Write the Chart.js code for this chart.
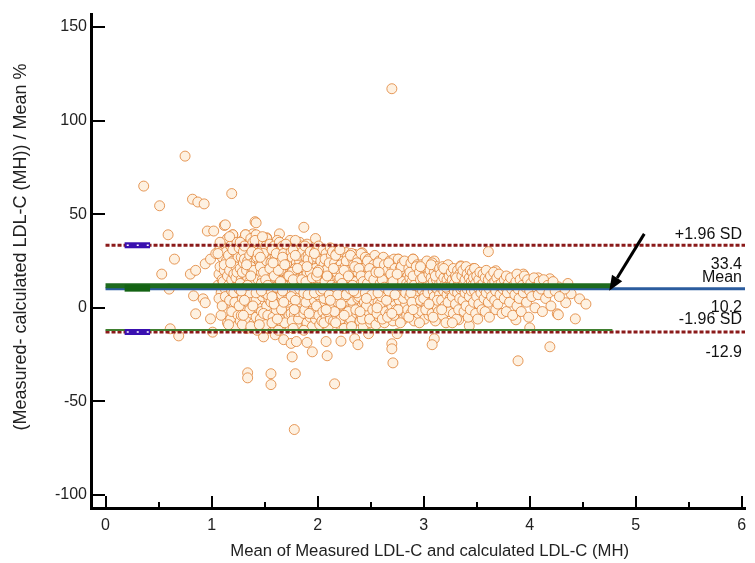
<!DOCTYPE html>
<html>
<head>
<meta charset="utf-8">
<script src="https://cdn.jsdelivr.net/npm/chart.js@4.4.1/dist/chart.umd.min.js"></script>
<style>
  html, body { margin: 0; padding: 0; background: #fff; }
  #wrap { width: 755px; height: 563px; }
</style>
</head>
<body>
<div id="wrap"><canvas id="chart" width="755" height="563"></canvas></div>
<script>
// Bland-Altman: % difference vs mean
const meanDiff = 10.2;
const upperLimit = 33.4;
const lowerLimit = -12.9;
const xTicks = [0, 1, 2, 3, 4, 5, 6];
const yTicks = [-100, -50, 0, 50, 100, 150];
const regMean = [[0, 11.8], [4.78, 11.8]];
const regLower = [[0, -11.8], [4.78, -11.8]];
const ciRange = [0.18, 0.42];
const arrowFrom = [5.08, 39.5];
const arrowTo = [4.75, 9.1];

const outliers = [
  [2.7,117],[0.75,81],[0.36,65],[0.51,54.5],[0.82,58],[0.87,56.5],[0.93,55.5],[1.19,61],
  [0.59,39],[0.65,26],[0.53,18],[0.6,10],[0.8,18],[0.85,20],[0.83,6.4],[0.92,4.8],[0.94,2.7],
  [0.85,-3.2],[0.99,-5.9],[0.61,-11.2],[0.69,-15],[1.01,-13],[0.96,41],[1.02,41],[1.12,44],
  [1.41,46],[1.64,39.5],[1.87,43],[1.98,37],[0.94,23.5],[0.99,26],[1.04,29],[1.08,32],
  [1.2,39],[1.32,39],[1.39,39.5],[1.52,37.4],[1.13,44.3],[1.42,45.4],
  [2.21,29],[2.27,29.5],[2.35,28.5],[2.42,29.4],[2.5,26],[2.76,26],[2.9,26],
  [3.61,30],[3.1,25],[3.35,22.4],[3.47,21],[3.68,19.8],[3.79,16],[3.94,18],[4.08,16],[4.19,15.5],
  [4.27,11.2],[4.39,7.5],[4.47,4.8],[4.53,2],[4.43,-5.9],[4.26,-3.2],[4.34,2.7],[4.33,10],[4.36,13],
  [4.0,-10.7],[3.43,-9.6],[3.33,-6.4],[3.87,-6.4],[4.27,-3.7],[3.89,-28.3],[4.19,-20.8],
  [1.49,-15.5],[1.6,-14.4],[1.68,-17],[1.75,-19],[1.8,-18],[1.9,-18.5],[2.08,-18],[2.22,-17.8],
  [2.35,-16.5],[2.38,-19.7],[2.48,-13.8],[2.7,-19.2],[2.7,-21.9],[2.75,-13.8],[3.1,-16.5],[3.08,-19.7],
  [1.76,-26.2],[1.95,-23.5],[2.09,-25.6],[2.71,-29.4],[1.34,-34.7],[1.34,-37.4],[1.56,-35.2],
  [1.56,-41],[1.79,-35.2],[2.16,-40.6],[1.78,-65]
];

const cloud = [
  [1.06,12],[1.07,18],[1.08,22],[1.09,8],[1.1,27],[1.1,15],[1.11,3],[1.12,34],[1.12,20],[1.13,10],[1.13,-2],[1.14,25],
  [1.14,30],[1.07,5],[1.09,-4],[1.11,14],[1.15,17],[1.15,37],[1.06,29],[1.08,35],[1.13,6],[1.15,-8],[1.1,1],[1.12,23],
  [1.16,12],[1.16,28],[1.17,4],[1.17,20],[1.18,33],[1.18,-6],[1.19,15],[1.19,9],[1.2,25],[1.2,39],[1.21,0],[1.21,18],
  [1.22,30],[1.22,11],[1.23,-10],[1.23,22],[1.24,6],[1.24,35],[1.25,14],[1.25,27],[1.17,38],[1.19,-2],[1.21,8],[1.23,16],
  [1.18,24],[1.2,31],[1.22,3],[1.24,19],[1.16,-9],[1.25,-4],
  [1.26,10],[1.26,32],[1.27,21],[1.27,-7],[1.28,15],[1.28,27],[1.29,5],[1.29,36],[1.3,12],[1.3,24],[1.31,-1],[1.31,18],
  [1.32,39],[1.32,8],[1.33,29],[1.33,-11],[1.34,16],[1.34,3],[1.35,22],[1.35,34],[1.26,1],[1.27,13],[1.28,-4],[1.29,19],
  [1.3,30],[1.31,26],[1.32,11],[1.33,6],[1.34,25],[1.35,-6],[1.27,35],[1.29,-9],[1.31,33],[1.33,20],[1.35,9],
  [1.36,14],[1.36,28],[1.37,5],[1.37,37],[1.38,19],[1.38,-3],[1.39,24],[1.39,10],[1.4,31],[1.4,-8],[1.41,16],[1.41,2],
  [1.42,26],[1.42,39],[1.43,12],[1.43,-12],[1.44,21],[1.44,7],[1.45,33],[1.45,17],[1.36,-1],[1.37,22],[1.38,9],[1.39,35],
  [1.4,13],[1.41,29],[1.42,-5],[1.43,18],[1.44,0],[1.45,25],[1.36,8],[1.38,30],[1.4,20],[1.42,4],[1.44,15],[1.37,-10],
  [1.41,36],[1.43,27],
  [1.46,11],[1.46,30],[1.47,19],[1.47,-2],[1.48,24],[1.48,6],[1.49,35],[1.49,14],[1.5,-7],[1.5,27],[1.51,9],[1.51,20],
  [1.52,37],[1.52,1],[1.53,16],[1.53,31],[1.54,-11],[1.54,23],[1.55,12],[1.55,4],[1.46,-6],[1.47,26],[1.48,15],[1.49,-3],
  [1.5,21],[1.51,33],[1.52,10],[1.53,-4],[1.54,18],[1.55,28],[1.46,22],[1.48,38],[1.5,8],[1.52,25],[1.54,5],[1.47,13],
  [1.49,29],[1.51,-9],[1.53,7],[1.55,34],
  [1.56,17],[1.56,3],[1.57,26],[1.57,10],[1.58,32],[1.58,-5],[1.59,20],[1.59,13],[1.6,-10],[1.6,28],[1.61,7],[1.61,22],
  [1.62,36],[1.62,0],[1.63,15],[1.63,25],[1.64,-3],[1.64,11],[1.65,30],[1.65,18],[1.56,24],[1.57,-8],[1.58,14],[1.59,33],
  [1.6,5],[1.61,-1],[1.62,19],[1.63,8],[1.64,27],[1.65,-7],[1.56,9],[1.58,21],[1.6,16],[1.62,12],[1.64,35],[1.57,31],
  [1.59,2],[1.61,29],[1.63,-12],[1.65,6],
  [1.66,14],[1.66,25],[1.67,4],[1.67,33],[1.68,19],[1.68,-6],[1.69,11],[1.69,28],[1.7,-2],[1.7,22],[1.71,8],[1.71,16],
  [1.72,31],[1.72,-9],[1.73,13],[1.73,24],[1.74,1],[1.74,36],[1.75,18],[1.75,10],[1.66,-1],[1.67,20],[1.68,29],[1.69,6],
  [1.7,15],[1.71,26],[1.72,3],[1.73,-4],[1.74,21],[1.75,30],[1.66,7],[1.68,12],[1.7,34],[1.72,17],[1.74,-10],[1.67,27],
  [1.69,-8],[1.71,23],[1.73,9],[1.75,-3],
  [1.76,13],[1.76,27],[1.77,5],[1.77,20],[1.78,-4],[1.78,32],[1.79,16],[1.79,9],[1.8,24],[1.8,-9],[1.81,11],[1.81,29],
  [1.82,2],[1.82,18],[1.83,35],[1.83,14],[1.84,-1],[1.84,22],[1.85,7],[1.85,26],[1.76,-7],[1.77,31],[1.78,12],[1.79,21],
  [1.8,4],[1.81,17],[1.82,-6],[1.83,25],[1.84,10],[1.85,33],[1.76,19],[1.78,8],[1.8,15],[1.82,28],[1.84,3],[1.77,-11],
  [1.79,36],[1.81,-2],[1.83,6],[1.85,20],
  [1.86,12],[1.86,30],[1.87,23],[1.87,-3],[1.88,16],[1.88,6],[1.89,27],[1.89,10],[1.9,-8],[1.9,34],[1.91,19],[1.91,2],
  [1.92,14],[1.92,25],[1.93,-5],[1.93,8],[1.94,21],[1.94,31],[1.95,12],[1.95,-10],[1.86,4],[1.87,17],[1.88,-1],[1.89,20],
  [1.9,11],[1.91,28],[1.92,5],[1.93,15],[1.94,-2],[1.95,24],[1.86,22],[1.88,33],[1.9,18],[1.92,9],[1.94,13],[1.87,-12],
  [1.89,3],[1.91,26],[1.93,30],[1.95,7],
  [1.96,16],[1.96,26],[1.97,4],[1.97,11],[1.98,30],[1.98,-6],[1.99,20],[1.99,13],[2.0,-1],[2.0,24],[2.01,8],[2.01,33],
  [2.02,17],[2.02,-9],[2.03,12],[2.03,22],[2.04,2],[2.04,28],[2.05,14],[2.05,6],[1.96,-3],[1.97,19],[1.98,9],[1.99,27],
  [2.0,15],[2.01,-4],[2.02,23],[2.03,5],[2.04,18],[2.05,31],[1.96,10],[1.98,21],[2.0,7],[2.02,12],[2.04,-7],[1.97,29],
  [1.99,1],[2.01,16],[2.03,25],[2.05,-2],
  [2.06,11],[2.06,23],[2.07,3],[2.07,18],[2.08,29],[2.08,-5],[2.09,14],[2.09,8],[2.1,25],[2.1,-10],[2.11,19],[2.11,12],
  [2.12,32],[2.12,0],[2.13,16],[2.13,6],[2.14,22],[2.14,-3],[2.15,10],[2.15,27],[2.06,-8],[2.07,26],[2.08,15],[2.09,21],
  [2.1,4],[2.11,-1],[2.12,13],[2.13,28],[2.14,9],[2.15,17],[2.06,5],[2.08,20],[2.1,12],[2.12,-6],[2.14,30],[2.07,10],
  [2.09,-2],[2.11,24],[2.13,1],[2.15,-7],
  [2.16,14],[2.16,24],[2.17,6],[2.17,19],[2.18,-4],[2.18,29],[2.19,11],[2.19,16],[2.2,2],[2.2,22],[2.21,-9],[2.21,13],
  [2.22,27],[2.22,8],[2.23,18],[2.23,-1],[2.24,10],[2.24,25],[2.25,4],[2.25,15],[2.16,-2],[2.17,28],[2.18,12],[2.19,21],
  [2.2,9],[2.21,31],[2.22,-6],[2.23,5],[2.24,17],[2.25,-11],[2.16,8],[2.18,19],[2.2,14],[2.22,23],[2.24,1],[2.17,-8],
  [2.19,3],[2.21,20],
  [2.26,12],[2.26,22],[2.27,3],[2.27,17],[2.28,27],[2.28,-5],[2.29,9],[2.29,14],[2.3,-1],[2.3,24],[2.31,19],[2.31,6],
  [2.32,11],[2.32,29],[2.33,-8],[2.33,16],[2.34,21],[2.34,1],[2.35,13],[2.35,7],[2.26,-3],[2.27,25],[2.28,10],[2.29,20],
  [2.3,15],[2.31,-6],[2.32,4],[2.33,26],[2.34,12],[2.35,18],[2.26,6],[2.28,16],[2.3,8],[2.32,-10],[2.34,23],[2.27,11],
  [2.29,-2],[2.31,28],
  [2.36,10],[2.36,20],[2.37,15],[2.37,-3],[2.38,26],[2.38,5],[2.39,12],[2.39,18],[2.4,-7],[2.4,23],[2.41,8],[2.41,29],
  [2.42,14],[2.42,1],[2.43,19],[2.43,-10],[2.44,11],[2.44,25],[2.45,4],[2.45,16],[2.36,-1],[2.37,24],[2.38,12],[2.39,6],
  [2.4,17],[2.41,-4],[2.42,21],[2.43,9],[2.44,3],[2.45,27],[2.36,14],[2.38,19],[2.4,10],[2.42,-6],[2.44,15],[2.41,13],
  [2.46,12],[2.46,22],[2.47,6],[2.47,17],[2.48,-2],[2.48,26],[2.49,10],[2.49,14],[2.5,20],[2.5,-8],[2.51,3],[2.51,24],
  [2.52,16],[2.52,9],[2.53,-4],[2.53,19],[2.54,12],[2.54,28],[2.55,5],[2.55,14],[2.46,1],[2.47,25],[2.48,11],[2.49,-6],
  [2.5,13],[2.51,18],[2.52,-1],[2.53,23],[2.54,7],[2.55,-9],[2.47,9],[2.49,21],[2.51,11],[2.53,4],
  [2.56,11],[2.56,20],[2.57,3],[2.57,15],[2.58,25],[2.58,-5],[2.59,9],[2.59,17],[2.6,13],[2.6,-1],[2.61,22],[2.61,7],
  [2.62,27],[2.62,12],[2.63,-8],[2.63,18],[2.64,5],[2.64,14],[2.65,21],[2.65,10],[2.56,-3],[2.57,24],[2.58,14],[2.59,2],
  [2.6,19],[2.61,-6],[2.62,8],[2.63,23],[2.64,-2],[2.65,16],[2.57,11],[2.6,6],
  [2.66,12],[2.66,20],[2.67,5],[2.67,16],[2.68,25],[2.68,-3],[2.69,10],[2.69,14],[2.7,22],[2.7,1],[2.71,18],[2.71,-7],
  [2.72,9],[2.72,26],[2.73,13],[2.73,3],[2.74,19],[2.74,-1],[2.75,11],[2.75,23],[2.66,-5],[2.67,24],[2.68,14],[2.69,6],
  [2.7,17],[2.71,11],[2.72,-4],[2.73,21],[2.74,8],[2.75,15],
  [2.76,13],[2.76,26],[2.77,4],[2.77,18],[2.78,9],[2.78,21],[2.79,-2],[2.79,14],[2.8,24],[2.8,7],[2.81,16],[2.81,-6],
  [2.82,11],[2.82,20],[2.83,2],[2.83,15],[2.84,23],[2.84,-4],[2.85,10],[2.85,17],[2.76,-1],[2.77,12],[2.78,-8],[2.79,22],
  [2.8,14],[2.81,5],[2.82,25],[2.83,8],[2.84,13],[2.85,-1],
  [2.86,12],[2.86,21],[2.87,6],[2.87,16],[2.88,-3],[2.88,24],[2.89,10],[2.89,14],[2.9,26],[2.9,2],[2.91,18],[2.91,-7],
  [2.92,11],[2.92,20],[2.93,5],[2.93,15],[2.94,-1],[2.94,23],[2.95,9],[2.95,13],[2.86,-5],[2.87,19],[2.88,8],[2.89,3],
  [2.9,17],[2.91,12],[2.93,22],[2.95,-3],
  [2.96,11],[2.96,19],[2.97,4],[2.97,15],[2.98,23],[2.98,-2],[2.99,9],[3.0,13],[3.0,21],[3.01,-6],[3.01,7],[3.02,17],
  [3.02,11],[3.03,25],[3.03,1],[3.04,14],[3.04,20],[3.05,-4],[3.05,10],[2.96,-8],[2.97,22],[2.99,16],[3.0,5],[3.02,-1],
  [3.04,8],[3.05,18],
  [3.06,12],[3.06,20],[3.07,3],[3.07,16],[3.08,24],[3.08,-3],[3.09,9],[3.09,14],[3.1,19],[3.1,6],[3.11,-7],[3.11,11],
  [3.12,22],[3.12,15],[3.13,0],[3.13,10],[3.14,18],[3.14,-2],[3.15,13],[3.15,7],[3.07,23],[3.09,-5],[3.11,17],[3.13,4],
  [3.15,21],
  [3.16,11],[3.16,18],[3.17,4],[3.17,14],[3.18,22],[3.18,-4],[3.19,9],[3.19,16],[3.2,1],[3.2,12],[3.21,20],[3.21,-8],
  [3.22,7],[3.22,15],[3.23,23],[3.23,10],[3.24,-2],[3.24,17],[3.25,5],[3.25,13],[3.17,-1],[3.19,21],[3.21,11],[3.23,3],
  [3.26,12],[3.26,19],[3.27,6],[3.27,15],[3.28,-3],[3.28,21],[3.29,9],[3.29,13],[3.3,17],[3.3,2],[3.31,11],[3.31,-6],
  [3.32,20],[3.32,8],[3.33,14],[3.33,-1],[3.34,18],[3.34,5],[3.35,10],[3.35,22],[3.27,-8],[3.31,16],
  [3.36,11],[3.36,17],[3.37,4],[3.37,20],[3.38,13],[3.38,-2],[3.39,8],[3.39,15],[3.4,22],[3.4,1],[3.41,10],[3.41,18],
  [3.42,-5],[3.42,12],[3.43,6],[3.43,16],[3.44,20],[3.44,-1],[3.45,9],[3.45,14],
  [3.46,12],[3.46,19],[3.47,3],[3.47,16],[3.48,9],[3.48,21],[3.49,-3],[3.49,13],[3.5,17],[3.5,6],[3.51,11],[3.51,-6],
  [3.52,15],[3.52,2],[3.53,19],[3.54,8],[3.54,12],[3.55,-1],
  [3.56,13],[3.56,18],[3.57,5],[3.57,10],[3.58,16],[3.58,-2],[3.59,20],[3.59,8],[3.6,12],[3.61,3],[3.61,15],[3.62,-5],
  [3.62,10],[3.63,17],[3.64,6],[3.65,13],
  [3.66,11],[3.66,19],[3.67,4],[3.67,14],[3.68,-1],[3.68,9],[3.69,16],[3.7,12],[3.7,2],[3.71,18],[3.72,7],[3.73,13],
  [3.74,-3],[3.75,10],
  [3.76,15],[3.76,5],[3.77,11],[3.78,17],[3.78,-2],[3.79,8],[3.8,13],[3.81,3],[3.82,16],[3.83,10],[3.84,-4],[3.85,12],
  [3.86,7],[3.87,14],[3.88,1],[3.88,18],[3.89,10],[3.9,5],[3.91,15],[3.92,-2],[3.93,12],[3.94,8],[3.95,17],
  [3.96,11],[3.97,3],[3.98,15],[3.99,-5],[4.0,9],[4.01,13],[4.02,6],[4.04,16],[4.05,0],[4.06,11],[4.08,7],[4.09,14],
  [4.11,10],[4.12,-2],[4.13,15],[4.15,5],[4.17,12],[4.18,8],[4.2,1],[4.22,14],[4.24,9],[4.28,6]
];

// extra points in the densest core
const core = [
  [1.28,9],[1.31,4],[1.34,12],[1.37,17],[1.39,1],[1.42,8],[1.44,29],[1.47,9],[1.49,19],[1.51,15],[1.53,12],[1.55,21],
  [1.57,6],[1.59,17],[1.61,11],[1.63,20],[1.65,14],[1.67,9],[1.69,23],[1.71,4],[1.73,17],[1.75,6],[1.77,15],[1.79,4],
  [1.81,21],[1.83,10],[1.85,15],[1.87,8],[1.89,14],[1.91,7],[1.93,19],[1.95,16],[1.97,8],[1.99,17],[2.01,20],[2.03,9],
  [2.05,10],[2.07,14],[2.09,17],[2.11,7],[2.13,12],[2.15,21],[2.17,11],[2.19,7],[2.21,16],[2.23,13],[2.25,20],[2.27,7],
  [2.29,17],[2.31,10],[2.33,12],[2.35,22],[2.37,8],[2.39,21],[2.41,17],[2.43,14],[2.45,8],[2.47,13],[2.49,17],[2.51,7],
  [2.53,15],[2.55,19],[2.57,8],[2.59,13],[2.61,15],[2.63,11],[2.65,4],[2.67,9],[2.69,18],[2.71,14],[2.73,7],[2.75,18],
  [1.33,23],[1.46,27],[1.58,24],[1.68,3],[1.79,28],[1.9,22],[2.0,19],[2.12,4],[2.22,2],[2.34,9],[2.46,5],[2.58,19],
  [1.3,-4],[1.45,-9],[1.62,-6],[1.78,-1],[1.92,-3],[2.08,-1],[2.25,-4],[2.4,-2],[2.56,0],[2.7,-3],[2.9,-1],[3.05,2]
];

const toXY = arr => arr.map(p => ({ x: p[0], y: p[1] }));
const FONT = '"Liberation Sans", Arial, sans-serif';
const X_MAX = 6.03;

function hLine(y, x0, x1, color, width, dash, order) {
  return {
    data: [{ x: x0, y: y }, { x: x1, y: y }],
    showLine: true, pointRadius: 0, borderColor: color, borderWidth: width,
    borderDash: dash || [], order: order, borderCapStyle: 'butt'
  };
}

const extras = {
  id: 'extras',
  afterDraw(chart) {
    const ctx = chart.ctx;
    const xs = chart.scales.x, ys = chart.scales.y;
    const area = chart.chartArea;
    ctx.save();
    // inward ticks
    ctx.strokeStyle = '#000';
    ctx.lineWidth = 2;
    xTicks.forEach(v => {
      const px = Math.round(xs.getPixelForValue(v));
      ctx.beginPath(); ctx.moveTo(px, area.bottom); ctx.lineTo(px, area.bottom - 12); ctx.stroke();
      if (v < 6) {
        const mx = Math.round(xs.getPixelForValue(v + 0.5));
        ctx.beginPath(); ctx.moveTo(mx, area.bottom); ctx.lineTo(mx, area.bottom - 6); ctx.stroke();
      }
    });
    yTicks.forEach(v => {
      const py = Math.round(ys.getPixelForValue(v));
      ctx.beginPath(); ctx.moveTo(area.left, py); ctx.lineTo(area.left + 14, py); ctx.stroke();
    });

    // labels for the limits
    ctx.fillStyle = '#111';
    ctx.font = '16px ' + FONT;
    ctx.textAlign = 'right';
    ctx.textBaseline = 'middle';
    const rx = area.right - 3;
    const yu = ys.getPixelForValue(upperLimit);
    const ym = ys.getPixelForValue(meanDiff);
    const yl = ys.getPixelForValue(lowerLimit);
    ctx.fillText('+1.96 SD', rx, yu - 11);
    ctx.fillText(upperLimit.toFixed(1), rx, yu + 19);
    ctx.fillText('Mean', rx, ym - 11);
    ctx.fillText(meanDiff.toFixed(1), rx, ym + 19);
    ctx.fillText('-1.96 SD', rx, yl - 12);
    ctx.fillText(lowerLimit.toFixed(1), rx, yl + 21);

    // arrow
    const ax0 = xs.getPixelForValue(arrowFrom[0]), ay0 = ys.getPixelForValue(arrowFrom[1]);
    const ax1 = xs.getPixelForValue(arrowTo[0]), ay1 = ys.getPixelForValue(arrowTo[1]);
    const ang = Math.atan2(ay1 - ay0, ax1 - ax0);
    const hl = 15, hw = 6;
    const bx = ax1 - hl * Math.cos(ang), by = ay1 - hl * Math.sin(ang);
    ctx.strokeStyle = '#000';
    ctx.lineWidth = 3;
    ctx.beginPath(); ctx.moveTo(ax0, ay0); ctx.lineTo(bx, by); ctx.stroke();
    ctx.fillStyle = '#000';
    ctx.beginPath();
    ctx.moveTo(ax1, ay1);
    ctx.lineTo(bx + hw * Math.sin(ang), by - hw * Math.cos(ang));
    ctx.lineTo(bx - hw * Math.sin(ang), by + hw * Math.cos(ang));
    ctx.closePath(); ctx.fill();

    // axis titles
    ctx.fillStyle = '#222';
    ctx.textAlign = 'center';
    ctx.font = '16.7px ' + FONT;
    ctx.fillText('Mean of Measured LDL-C and calculated LDL-C (MH)', xs.getPixelForValue(3) + 6, 551);
    ctx.font = '18px ' + FONT;
    ctx.translate(21, 247);
    ctx.rotate(-Math.PI / 2);
    ctx.fillText('(Measured- calculated LDL-C (MH)) / Mean %', 0, 0);
    ctx.restore();
  }
};

new Chart(document.getElementById('chart'), {
  type: 'scatter',
  data: {
    datasets: [
      {
        data: toXY(outliers.concat(cloud, core)),
        pointRadius: 5,
        pointBackgroundColor: '#fef1e1',
        pointBorderColor: 'rgba(222,122,40,0.75)',
        pointBorderWidth: 1,
        order: 20
      },
      hLine(upperLimit, 0, X_MAX, '#8b1a1a', 3, [4, 2], 5),
      hLine(lowerLimit, 0, X_MAX, '#8b1a1a', 3, [4, 2], 5),
      hLine(meanDiff, 0, X_MAX, '#2b5c9e', 3, null, 6),
      hLine(regMean[0][1], regMean[0][0], regMean[1][0], '#1e6b1e', 5, null, 4),
      hLine(regLower[0][1], regLower[0][0], regLower[1][0], '#3f7f2f', 2, null, 4),
      hLine(upperLimit, ciRange[0], ciRange[1], '#3a10b0', 6, null, 3),
      hLine(lowerLimit, ciRange[0], ciRange[1], '#3a10b0', 6, null, 3),
      hLine(meanDiff + 0.3, ciRange[0], ciRange[1], '#136313', 7, null, 3),
      hLine(upperLimit, ciRange[0] + 0.02, ciRange[1], '#ffffff', 1.5, [2, 8], 1),
      hLine(lowerLimit, ciRange[0] + 0.02, ciRange[1], '#ffffff', 1.5, [2, 8], 1)
    ]
  },
  options: {
    responsive: false,
    animation: false,
    devicePixelRatio: 1,
    layout: { padding: { top: 14, right: 10, left: 0, bottom: 0 } },
    plugins: { legend: { display: false }, tooltip: { enabled: false } },
    scales: {
      x: {
        type: 'linear',
        min: -0.137,
        max: X_MAX,
        afterFit: s => { s.height = 55; },
        afterBuildTicks: s => { s.ticks = xTicks.map(v => ({ value: v })); },
        grid: { display: false, drawTicks: false },
        border: { display: true, color: '#000', width: 3 },
        ticks: { color: '#222', font: { size: 16, family: FONT }, padding: 8, maxRotation: 0 }
      },
      y: {
        type: 'linear',
        min: -106.9,
        max: 156.9,
        afterFit: s => { s.width = 91; },
        afterBuildTicks: s => { s.ticks = yTicks.map(v => ({ value: v })); },
        grid: { display: false, drawTicks: false },
        border: { display: true, color: '#000', width: 3 },
        ticks: { color: '#222', font: { size: 16, family: FONT }, padding: 4 }
      }
    }
  },
  plugins: [extras]
});
</script>
</body>
</html>
